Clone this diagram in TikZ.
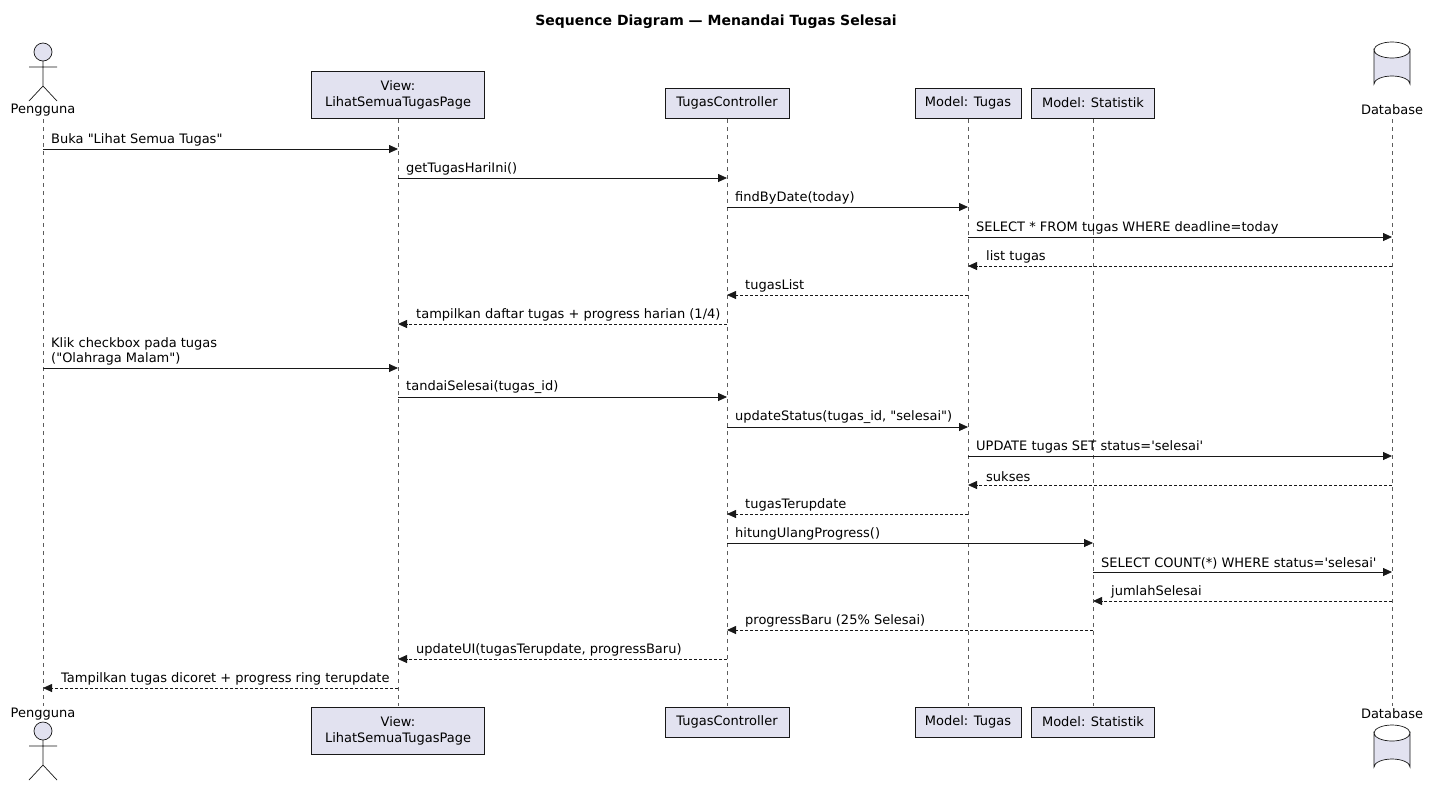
\documentclass[tikz,border=0pt]{standalone}
\usepackage{fontspec}
\setmainfont{DejaVu Sans}[Ligatures=TeXOff]
\usetikzlibrary{arrows.meta}
\definecolor{pfill}{HTML}{E2E2F0}
\definecolor{pline}{HTML}{181818}
\begin{document}
\begin{tikzpicture}[x=1pt,y=-1pt,
  part/.style={draw=pline,fill=pfill,line width=0.7pt,inner sep=0pt,align=center,font=\fontsize{13pt}{16pt}\selectfont},
  life/.style={draw=pline!70,dash pattern=on 4pt off 4pt,line width=0.5pt},
  msg/.style={draw=pline,line width=0.8pt,-{Triangle[length=9pt,width=8pt]}},
  ret/.style={msg,dash pattern=on 3pt off 2pt},
  lbl/.style={anchor=south west,inner sep=0pt,align=left,font=\fontsize{13pt}{14.5pt}\selectfont},
  plain/.style={inner sep=0pt,font=\fontsize{13pt}{16pt}\selectfont}]
\useasboundingbox (0,0) rectangle (1439,788);
\fill[white] (0,0) rectangle (1439,788);
\node[font=\bfseries\fontsize{14pt}{16pt}\selectfont] (title) at (716,22) {Sequence Diagram — Menandai Tugas Selesai};
\foreach \n/\x in {A/43,V/398,C/727,T/968,S/1093,D/1392}{
  \coordinate (\n top) at (\x,119);
  \coordinate (\n bot) at (\x,706);
}
\foreach \n in {A,V,C,T,S,D}{\draw[life] (\n top) -- (\n bot);}
\node[part,minimum width=173pt,minimum height=47pt] (Vt) at (398,94.5) {View:\\LihatSemuaTugasPage};
\node[part,minimum width=124pt,minimum height=30pt] (Ct) at (727,103) {TugasController};
\node[part,minimum width=106pt,minimum height=30pt] (Tt) at (968,103) {Model: Tugas};
\node[part,minimum width=123pt,minimum height=30pt] (St) at (1093,103) {Model: Statistik};
\node[part,minimum width=173pt,minimum height=47pt] (Vb) at (398,730.5) {View:\\LihatSemuaTugasPage};
\node[part,minimum width=124pt,minimum height=30pt] (Cb) at (727,722) {TugasController};
\node[part,minimum width=106pt,minimum height=30pt] (Tb) at (968,722) {Model: Tugas};
\node[part,minimum width=123pt,minimum height=30pt] (Sb) at (1093,722) {Model: Statistik};
\node[plain] (At) at (43,110) {Pengguna};
\node[plain] (Ab) at (43,714) {Pengguna};
\foreach \y in {52,731}{
  \draw[pline,fill=pfill,line width=0.7pt] (43,\y) circle (9);
  \draw[pline,line width=0.7pt] (43,\y+9) -- (43,\y+34) (29,\y+15) -- (57,\y+15) (43,\y+34) -- (29,\y+49) (43,\y+34) -- (57,\y+49);
}
\node[plain] (Dt) at (1392,110) {Database};
\node[plain] (Db) at (1392,714) {Database};
\foreach \y in {42,725}{
  \draw[pline,fill=pfill,line width=0.7pt] (1374,\y+8) -- (1374,\y+42) arc[start angle=180,end angle=360,x radius=18,y radius=8] -- (1410,\y+8) arc[start angle=0,end angle=180,x radius=18,y radius=8] -- cycle;
  \draw[pline,line width=0.7pt] (1374,\y+8) arc[start angle=180,end angle=360,x radius=18,y radius=8];
}
\newcommand\mR[5]{\draw[#5] (#1top |- 0,#3) -- (#2top |- 0,#3); \path (#1top |- 0,#3) ++(8,-3) node[lbl] {#4};}
\newcommand\mL[5]{\draw[#5] (#1top |- 0,#3) -- (#2top |- 0,#3); \path (#2top |- 0,#3) ++(18,-3) node[lbl] {#4};}
\mR{A}{V}{149}{Buka "Lihat Semua Tugas"}{msg}
\mR{V}{C}{178}{getTugasHariIni()}{msg}
\mR{C}{T}{207}{findByDate(today)}{msg}
\mR{T}{D}{237}{SELECT * FROM tugas WHERE deadline=today}{msg}
\mL{D}{T}{266}{list tugas}{ret}
\mL{T}{C}{295}{tugasList}{ret}
\mL{C}{V}{324}{tampilkan daftar tugas + progress harian (1/4)}{ret}
\mR{A}{V}{368}{Klik checkbox pada tugas\\("Olahraga Malam")}{msg}
\mR{V}{C}{397}{tandaiSelesai(tugas\_id)}{msg}
\mR{C}{T}{427}{updateStatus(tugas\_id, "selesai")}{msg}
\mR{T}{D}{456}{UPDATE tugas SET status='selesai'}{msg}
\mL{D}{T}{485}{sukses}{ret}
\mL{T}{C}{514}{tugasTerupdate}{ret}
\mR{C}{S}{543}{hitungUlangProgress()}{msg}
\mR{S}{D}{572}{SELECT COUNT(*) WHERE status='selesai'}{msg}
\mL{D}{S}{601}{jumlahSelesai}{ret}
\mL{S}{C}{630}{progressBaru (25\% Selesai)}{ret}
\mL{C}{V}{659}{updateUI(tugasTerupdate, progressBaru)}{ret}
\mL{V}{A}{688}{Tampilkan tugas dicoret + progress ring terupdate}{ret}
\end{tikzpicture}
\end{document}
